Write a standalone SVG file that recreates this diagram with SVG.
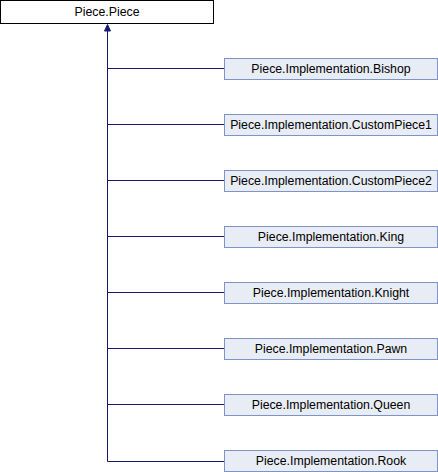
<svg xmlns="http://www.w3.org/2000/svg" width="438" height="472" viewBox="0 0 438 472">
<defs>
<style>
text{font-family:"Liberation Sans",Arial,sans-serif;font-size:12.3px;text-anchor:middle;fill:#000}
.base rect{fill:#fff;stroke:#000;stroke-width:1}
.child rect{fill:#e8ecf5;stroke:#7c94c6;stroke-width:1}
.edge{stroke:#191970;stroke-width:1;fill:none}
.head{fill:#191970;stroke:#191970;stroke-width:1}
</style>
</defs>
<g id="connectors">
<path class="edge" d="M107.5,461.5 V30"/>
<polygon class="head" points="107.5,24.5 104.5,31 110.5,31"/>
<path class="edge" d="M107.5,68.5 H224"/>
<path class="edge" d="M107.5,124.5 H224"/>
<path class="edge" d="M107.5,180.5 H224"/>
<path class="edge" d="M107.5,236.5 H224"/>
<path class="edge" d="M107.5,292.5 H224"/>
<path class="edge" d="M107.5,348.5 H224"/>
<path class="edge" d="M107.5,404.5 H224"/>
<path class="edge" d="M107.5,461.5 H224"/>
</g>
<g id="piece" class="base"><rect x="0.5" y="0.5" width="213" height="23"/><text x="107" y="16">Piece.Piece</text></g>
<g id="bishop" class="child"><rect x="224.5" y="58.5" width="213" height="21"/><text x="331" y="73">Piece.Implementation.Bishop</text></g>
<g id="custompiece1" class="child"><rect x="224.5" y="114.5" width="213" height="21"/><text x="331" y="129">Piece.Implementation.CustomPiece1</text></g>
<g id="custompiece2" class="child"><rect x="224.5" y="170.5" width="213" height="21"/><text x="331" y="185">Piece.Implementation.CustomPiece2</text></g>
<g id="king" class="child"><rect x="224.5" y="226.5" width="213" height="21"/><text x="331" y="241">Piece.Implementation.King</text></g>
<g id="knight" class="child"><rect x="224.5" y="282.5" width="213" height="21"/><text x="331" y="297">Piece.Implementation.Knight</text></g>
<g id="pawn" class="child"><rect x="224.5" y="338.5" width="213" height="21"/><text x="331" y="353">Piece.Implementation.Pawn</text></g>
<g id="queen" class="child"><rect x="224.5" y="394.5" width="213" height="21"/><text x="331" y="409">Piece.Implementation.Queen</text></g>
<g id="rook" class="child"><rect x="224.5" y="450.5" width="213" height="21"/><text x="331" y="465">Piece.Implementation.Rook</text></g>
</svg>
